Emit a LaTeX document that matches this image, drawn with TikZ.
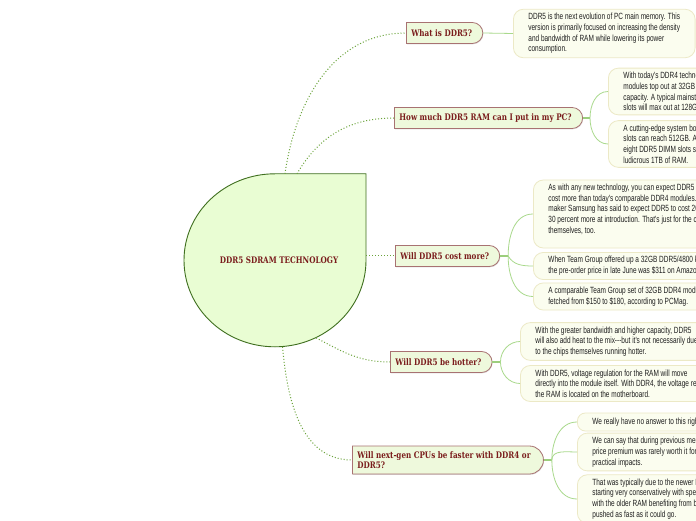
\documentclass[tikz,border=0pt]{standalone}
\usepackage{fontspec}
\usepackage{xcolor}
\usetikzlibrary{shapes.geometric,shapes.misc,shadows}
\newfontfamily\leaffont[FakeStretch=0.72]{Liberation Sans}
\newfontfamily\topicfont[FakeStretch=0.8]{DejaVu Serif}
\definecolor{corefill}{HTML}{E9FDD3}
\definecolor{coreline}{HTML}{3F6F1F}
\definecolor{topicfill}{HTML}{EEF9DC}
\definecolor{topicline}{HTML}{A87272}
\definecolor{topictext}{HTML}{7A1C1C}
\definecolor{leaffill}{HTML}{FBFDEF}
\definecolor{leafline}{HTML}{ECE9C6}
\definecolor{leaftext}{HTML}{1E1E1E}
\definecolor{branchgreen}{HTML}{6AA33A}
\definecolor{twiggreen}{HTML}{A9D98C}
\tikzset{
  topic/.style={
    rounded rectangle,
    rounded rectangle left arc=none,
    draw=topicline,
    fill=topicfill,
    line width=0.8pt,
    drop shadow={shadow xshift=0.6pt, shadow yshift=-0.8pt, opacity=0.25},
    align=left,
    anchor=west,
    inner xsep=5pt,
    inner ysep=5.5pt,
    minimum height=21pt,
    execute at end node=\hspace{5pt},
    text=topictext,
    font=\topicfont\bfseries\fontsize{9}{10}\selectfont
  },
  leaf/.style={
    rectangle,
    rounded corners=10pt,
    draw=leafline,
    fill=leaffill,
    line width=0.8pt,
    align=left,
    anchor=west,
    inner xsep=15pt,
    inner ysep=4pt,
    minimum height=18pt,
    text=leaftext,
    font=\leaffont\fontsize{9}{10.7}\selectfont
  },
  branch/.style={draw=branchgreen, line width=1pt, dotted},
  twig/.style={draw=twiggreen, line width=0.8pt},
  stub/.style={draw=twiggreen!80!branchgreen, line width=1.3pt}
}
\begin{document}
\begin{tikzpicture}[x=1pt, y=1pt]
  \useasboundingbox (0,0) rectangle (696,520);
  \fill[white] (0,0) rectangle (696,520);
  \clip (0,0) rectangle (696,520);

  % central idea
  \node[ellipse, minimum width=182pt, minimum height=173pt, inner sep=0pt] (core) at (275,259.5) {};
  \draw[fill=corefill, draw=coreline, line width=0.9pt]
    (core.north) -- ++(91,0) -- ++(0,-86.5)
    arc[start angle=0, end angle=-270, x radius=91pt, y radius=86.5pt] -- cycle;
  \node[text=topictext, font=\topicfont\bfseries\fontsize{9}{10}\selectfont] (title) at (279,260) {DDR5 SDRAM TECHNOLOGY};

  % topics
  \node[topic] (t1) at (406,487) {What is DDR5?};
  \node[topic] (t2) at (394,402) {How much DDR5 RAM can I put in my PC?};
  \node[topic] (t3) at (395,264) {Will DDR5 cost more?};
  \node[topic] (t4) at (390,158) {Will DDR5 be hotter?};
  \node[topic] (t5) at (352,60) {Will next-gen CPUs be faster with DDR4 or\\DDR5?};

  % details
  \node[leaf] (l1) at (513,486.5) {DDR5 is the next evolution of PC main memory. This\\version is primarily focused on increasing the density\\and bandwidth of RAM while lowering its power\\consumption.};
  \node[leaf] (l2a) at (608,428.5) {With today's DDR4 technology, consumer DIMM\\modules top out at 32GB of\\capacity. A typical mainstream board with four\\slots will max out at 128GB.};
  \node[leaf] (l2b) at (608,376) {A cutting-edge system board with four DDR5 DIMM\\slots can reach 512GB. A workstation with\\eight DDR5 DIMM slots supports a\\ludicrous 1TB of RAM.};
  \node[leaf] (l3a) at (533,306) {As with any new technology, you can expect DDR5 to\\cost more than today's comparable DDR4 modules. Memory\\maker Samsung has said to expect DDR5 to cost 20 to\\30 percent more at introduction. That's just for the chips\\themselves, too.\\\mbox{}};
  \node[leaf] (l3b) at (533,254) {When Team Group offered up a 32GB DDR5/4800 kit,\\the pre-order price in late June was \$311 on Amazon.};
  \node[leaf] (l3c) at (533,223.5) {A comparable Team Group set of 32GB DDR4 modules\\fetched from \$150 to \$180, according to PCMag.};
  \node[leaf] (l4a) at (520,178.5) {With the greater bandwidth and higher capacity, DDR5\\will also add heat to the mix---but it's not necessarily due\\to the chips themselves running hotter.};
  \node[leaf] (l4b) at (520,136.5) {With DDR5, voltage regulation for the RAM will move\\directly into the module itself. With DDR4, the voltage regulator for\\the RAM is located on the motherboard.};
  \node[leaf, rounded corners=8pt] (l5a) at (577,98) {We really have no answer to this right now.};
  \node[leaf] (l5b) at (577,68) {We can say that during previous memory transitions, the\\price premium was rarely worth it for the\\practical impacts.};
  \node[leaf] (l5c) at (577,21) {That was typically due to the newer RAM\\starting very conservatively with speeds,\\with the older RAM benefiting from being\\pushed as fast as it could go.};

  % hubs
  \coordinate (h2) at ([xshift=7pt]t2.east);
  \coordinate (h3) at ([xshift=8pt]t3.east);
  \coordinate (h4) at ([xshift=8pt]t4.east);
  \coordinate (h5) at ([xshift=8pt]t5.east);

  % branches
  \draw[branch] ([xshift=10pt]core.north) to[out=82, in=180] (t1.west);
  \draw[branch] ([xshift=22pt]core.north) to[out=60, in=180] (t2.west);
  \draw[branch] ([yshift=4.5pt]core.east) -- (t3.west);
  \draw[branch] (core.-62) to[out=-28, in=180] (t4.west);
  \draw[branch] (core.-85) to[out=-85, in=180] (t5.west);

  % twigs
  \draw[twig] (t1.east) -- (l1.west);
  \draw[stub] (t2.east) -- (h2);
  \draw[twig] (h2) to[out=90, in=180] (l2a.west);
  \draw[twig] (h2) to[out=-90, in=180] (l2b.west);
  \draw[stub] (t3.east) -- (h3);
  \draw[twig] (h3) to[out=90, in=180] (l3a.west);
  \draw[twig] (h3) to[out=-60, in=180] (l3b.west);
  \draw[twig] (h3) to[out=-90, in=180] (l3c.west);
  \draw[stub] (t4.east) -- (h4);
  \draw[twig] (h4) to[out=90, in=180] (l4a.west);
  \draw[twig] (h4) to[out=-90, in=180] (l4b.west);
  \draw[stub] (t5.east) -- (h5);
  \draw[twig] (h5) to[out=90, in=180] (l5a.west);
  \draw[twig] (h5) to[out=90, in=180] (l5b.west);
  \draw[twig] (h5) to[out=-90, in=180] (l5c.west);
\end{tikzpicture}
\end{document}
